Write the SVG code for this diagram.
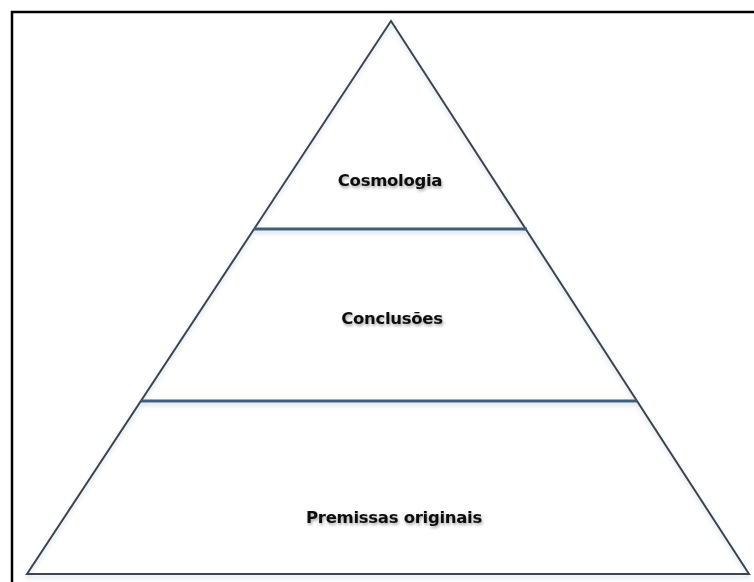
<svg xmlns="http://www.w3.org/2000/svg" width="754" height="582" viewBox="0 0 754 582">
  <defs>
    <filter id="soft" x="-5%" y="-5%" width="110%" height="120%">
      <feGaussianBlur in="SourceAlpha" stdDeviation="2"/>
      <feOffset dx="0" dy="3" result="b"/>
      <feFlood flood-color="#9fb3c8" flood-opacity="0.45"/>
      <feComposite in2="b" operator="in"/>
      <feMerge><feMergeNode/><feMergeNode in="SourceGraphic"/></feMerge>
    </filter>
    <filter id="txtshadow" x="-10%" y="-30%" width="120%" height="170%">
      <feGaussianBlur in="SourceAlpha" stdDeviation="1.5"/>
      <feOffset dx="1" dy="2" result="b"/>
      <feFlood flood-color="#000" flood-opacity="0.35"/>
      <feComposite in2="b" operator="in"/>
      <feMerge><feMergeNode/><feMergeNode in="SourceGraphic"/></feMerge>
    </filter>
  </defs>
  <style>
    .edge { fill: none; stroke: #3a4550; stroke-width: 2; stroke-linejoin: miter; }
    .band { fill: none; stroke: #3f5d7a; stroke-width: 3; }
    .label { font-family: "DejaVu Sans", "Liberation Sans", sans-serif; font-weight: bold; font-size: 16.5px; letter-spacing: -0.3px; fill: #111; text-anchor: middle; }
  </style>
  <rect width="754" height="582" fill="#fff"/>
  <!-- frame: top and left edges -->
  <path d="M12 582 V12 H754" fill="none" stroke="#000" stroke-width="2.5"/>

  <g id="connectors" filter="url(#soft)">
    <polygon class="edge" points="391,21 27,574 749,574"/>
    <line class="band" x1="254" y1="229" x2="527" y2="229"/>
    <line class="band" x1="141" y1="401" x2="637" y2="401"/>
  </g>

  <g id="cosmologia">
    <text class="label" x="390" y="186" filter="url(#txtshadow)">Cosmologia</text>
  </g>
  <g id="conclusoes">
    <text class="label" x="392" y="324" filter="url(#txtshadow)">Conclusões</text>
  </g>
  <g id="premissas">
    <text class="label" x="394" y="523" filter="url(#txtshadow)">Premissas originais</text>
  </g>
</svg>
